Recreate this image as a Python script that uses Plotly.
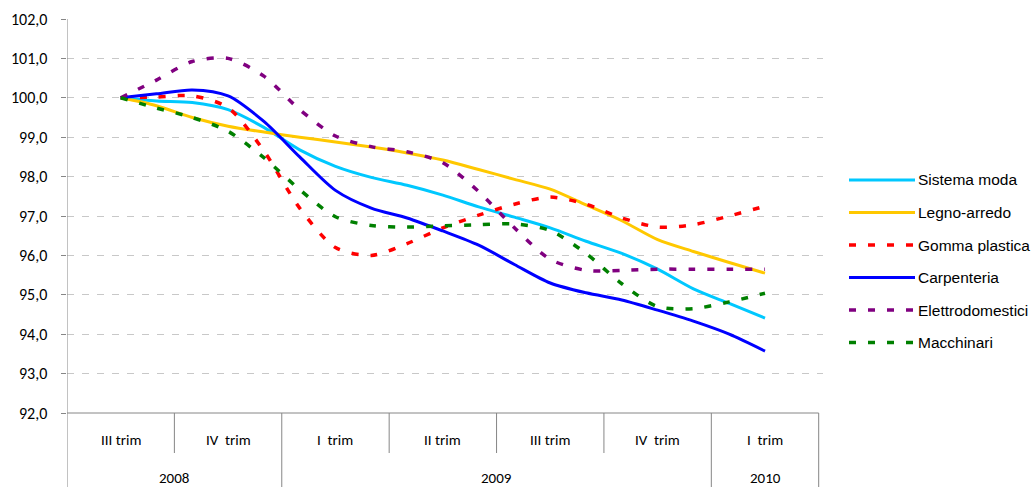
import plotly.graph_objects as go

# ---- data (monthly points, index 0 = middle of III trim 2008) ----
mesi = list(range(19))

sistema_moda = [100.0, 99.92, 99.88, 99.70, 99.25, 98.68, 98.26, 97.98, 97.78, 97.53,
                97.23, 96.97, 96.70, 96.36, 96.05, 95.65, 95.15, 94.78, 94.41]
legno_arredo = [100.0, 99.80, 99.50, 99.28, 99.13, 99.00, 98.88, 98.75, 98.60, 98.42,
                98.18, 97.93, 97.68, 97.28, 96.88, 96.40, 96.10, 95.82, 95.55]
gomma_plastica = [100.0, 100.02, 100.05, 99.75, 98.65, 97.20, 96.20, 96.00, 96.30, 96.70,
                  97.02, 97.30, 97.48, 97.30, 96.95, 96.72, 96.78, 97.00, 97.25]
carpenteria = [100.0, 100.10, 100.20, 100.05, 99.40, 98.50, 97.65, 97.20, 96.95, 96.62,
               96.26, 95.77, 95.30, 95.05, 94.87, 94.61, 94.33, 94.00, 93.57]
elettrodomestici = [100.0, 100.45, 100.92, 101.00, 100.55, 99.70, 99.03, 98.76, 98.63, 98.35,
                    97.62, 96.70, 95.90, 95.62, 95.62, 95.65, 95.65, 95.65, 95.65]
macchinari = [100.0, 99.74, 99.50, 99.15, 98.48, 97.67, 96.98, 96.76, 96.72, 96.75,
              96.78, 96.80, 96.63, 96.05, 95.28, 94.70, 94.65, 94.82, 95.04]

serie_nomi = ["Sistema moda", "Legno-arredo", "Gomma plastica",
              "Carpenteria", "Elettrodomestici", "Macchinari"]
trimestri = ["III trim", "IV  trim", "I  trim", "II trim", "III trim", "IV  trim", "I  trim"]
anni = ["2008", "2009", "2010"]
trimestri_per_anno = [2, 4, 1]
y_ticks = [92, 93, 94, 95, 96, 97, 98, 99, 100, 101, 102]

# ---- styles ----
colori = ["#00C8FF", "#FFC800", "#FF0000", "#0000FF", "#800080", "#008000"]
tratti = ["solid", "solid", "7px,12px", "solid", "7px,12px", "7px,12px"]
larghezze = [3, 3, 3.5, 3, 3.5, 3.5]
valori = [sistema_moda, legno_arredo, gomma_plastica, carpenteria, elettrodomestici, macchinari]

# body margin is removed by the post script, so page pixels == figure pixels
W, H = 1032, 487
PL, PT, PR, PB = 67, 19, 823, 413        # plot area in pixels
L, T, R, B = PL, PT, W - PR, H - PB
plot_w = PR - PL
plot_h = PB - PT
X0, X1 = -1.5, 19.62


def px_to_paper_x(px):
    return (px - PL) / plot_w


def py_to_paper_y(py):
    return (PB - py) / plot_h


fig = go.Figure()
for nome, vals, col, dash, lw in zip(serie_nomi, valori, colori, tratti, larghezze):
    fig.add_trace(go.Scatter(
        x=mesi, y=vals, mode="lines", name=nome, showlegend=False,
        line=dict(color=col, width=lw, dash=dash, shape="spline", smoothing=0.8),
        hoverinfo="skip"))

shapes = []
annotations = []
axis_col = "#868686"

# bottom axis line
shapes.append(dict(type="line", xref="x", yref="paper", x0=X0, x1=19.5, y0=0, y1=0,
                   line=dict(color=axis_col, width=1)))
# left axis line extended to bottom
shapes.append(dict(type="line", xref="x", yref="paper", x0=X0, x1=X0, y0=1,
                   y1=py_to_paper_y(H), line=dict(color=axis_col, width=1)))

# value-axis tick labels (decimal comma), placed like the reference
tick_font = dict(family="Carlito, Lato, sans-serif", size=16, color="#000000")
for v in y_ticks:
    annotations.append(dict(x=px_to_paper_x(49), y=v, xref="paper", yref="y",
                            text=f"{v:.1f}".replace(".", ","), showarrow=False,
                            font=tick_font, xanchor="right", yanchor="middle"))

# category boxes
year_bounds = [0]
acc = 0
for n in trimestri_per_anno:
    acc += n
    year_bounds.append(acc)
for k in range(1, len(trimestri) + 1):
    xb = X0 + 3 * k
    ybot = py_to_paper_y(H) if k in year_bounds else py_to_paper_y(453)
    shapes.append(dict(type="line", xref="x", yref="paper", x0=xb, x1=xb, y0=0, y1=ybot,
                       line=dict(color=axis_col, width=1)))

cat_font = dict(family="Carlito, Lato, sans-serif", size=15, color="#000000")
for k, lab in enumerate(trimestri):
    annotations.append(dict(x=3 * k, y=py_to_paper_y(440), xref="x", yref="paper",
                            text=lab, showarrow=False, font=cat_font,
                            xanchor="center", yanchor="middle"))
start = 0
for anno, n in zip(anni, trimestri_per_anno):
    xc = X0 + 3 * (start + n / 2)
    annotations.append(dict(x=xc, y=py_to_paper_y(477.5), xref="x", yref="paper",
                            text=anno, showarrow=False, font=cat_font,
                            xanchor="center", yanchor="middle"))
    start += n

# custom legend
leg_font = dict(family="Liberation Sans, Arial, sans-serif", size=15.5, color="#000000")
for i, (nome, col, dash, lw) in enumerate(zip(serie_nomi, colori, tratti, larghezze)):
    py = 180 + i * 32.5
    yy = py_to_paper_y(py)
    shapes.append(dict(type="line", xref="paper", yref="paper",
                       x0=px_to_paper_x(849), x1=px_to_paper_x(915), y0=yy, y1=yy,
                       line=dict(color=col, width=lw, dash=dash)))
    annotations.append(dict(x=px_to_paper_x(916), y=yy, xref="paper", yref="paper",
                            text=nome, showarrow=False, font=leg_font,
                            xanchor="left", yanchor="middle"))

fig.update_layout(
    width=W, height=H,
    margin=dict(l=L, r=R, t=T, b=B, pad=0, autoexpand=False),
    paper_bgcolor="white", plot_bgcolor="white",
    separators=",.",
    showlegend=False,
    xaxis=dict(range=[X0, X1], showgrid=False, zeroline=False, showticklabels=False,
               ticks="", showline=False, fixedrange=True, automargin=False),
    yaxis=dict(range=[92, 102], tickvals=y_ticks, showticklabels=False,
               showgrid=True, gridcolor="#C8C8C8", gridwidth=1, griddash="7px,8px",
               zeroline=False, showline=False,
               ticks="outside", ticklen=5, tickcolor=axis_col,
               automargin=False, fixedrange=True),
    shapes=shapes,
    annotations=annotations,
)

fig.write_html(
    "out.html",
    config={"displayModeBar": False, "staticPlot": True},
    post_script="document.body.style.margin='0px';document.body.style.overflow='hidden';",
)
